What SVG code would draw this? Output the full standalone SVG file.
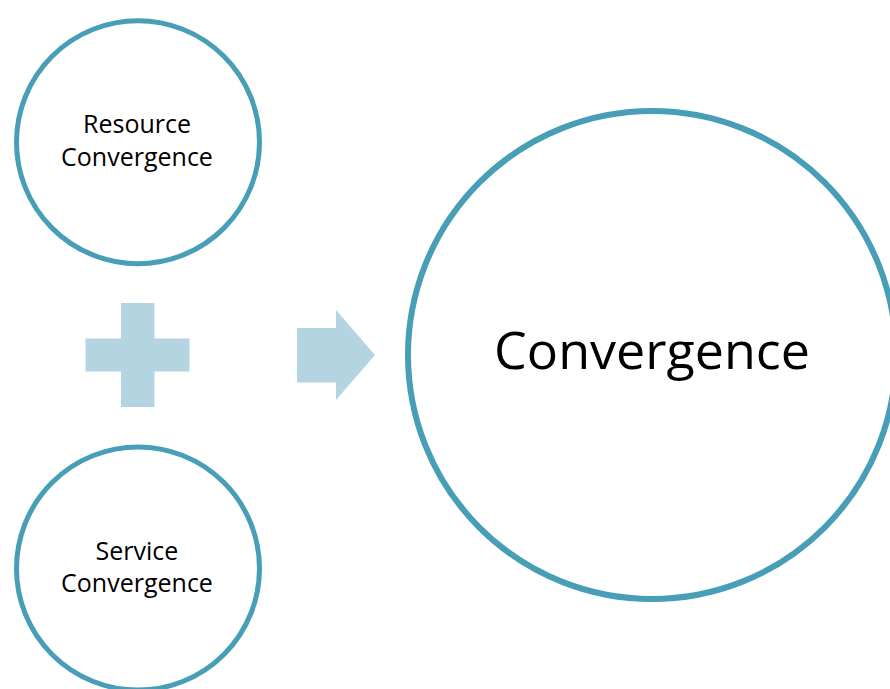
<svg xmlns="http://www.w3.org/2000/svg" width="890" height="689" viewBox="0 0 890 689">
  <style>
    .ring { fill: #ffffff; stroke: #479EB6; stroke-width: 5; }
    .ring.large { stroke-width: 6; }
    .sym { fill: #B3D4E0; }
    .lbl { font-family: "Open Sans", "Liberation Sans", sans-serif; fill: #000000; text-anchor: middle; }
    .small { font-size: 25px; }
    .big { font-size: 52px; }
  </style>
  <rect width="890" height="689" fill="#ffffff"/>
  <g id="connectors">
    <path id="plus" class="sym" d="M121,303 H154.5 V338.5 H189.5 V371.5 H154.5 V407 H121 V371.5 H85.5 V338.5 H121 Z"/>
    <path id="arrow" class="sym" d="M297,328 H336 V310 L375,355 L336,400 V382.5 H297 Z"/>
  </g>
  <g id="resource">
    <circle class="ring" cx="138" cy="142.2" r="121.5"/>
    <text class="lbl small" x="137" y="133">Resource</text>
    <text class="lbl small" x="137" y="166">Convergence</text>
  </g>
  <g id="service">
    <circle class="ring" cx="138" cy="568.5" r="121.5"/>
    <text class="lbl small" x="137" y="560">Service</text>
    <text class="lbl small" x="137" y="592">Convergence</text>
  </g>
  <g id="convergence">
    <circle class="ring large" cx="652" cy="355" r="244"/>
    <text class="lbl big" x="652" y="369">Convergence</text>
  </g>
</svg>
